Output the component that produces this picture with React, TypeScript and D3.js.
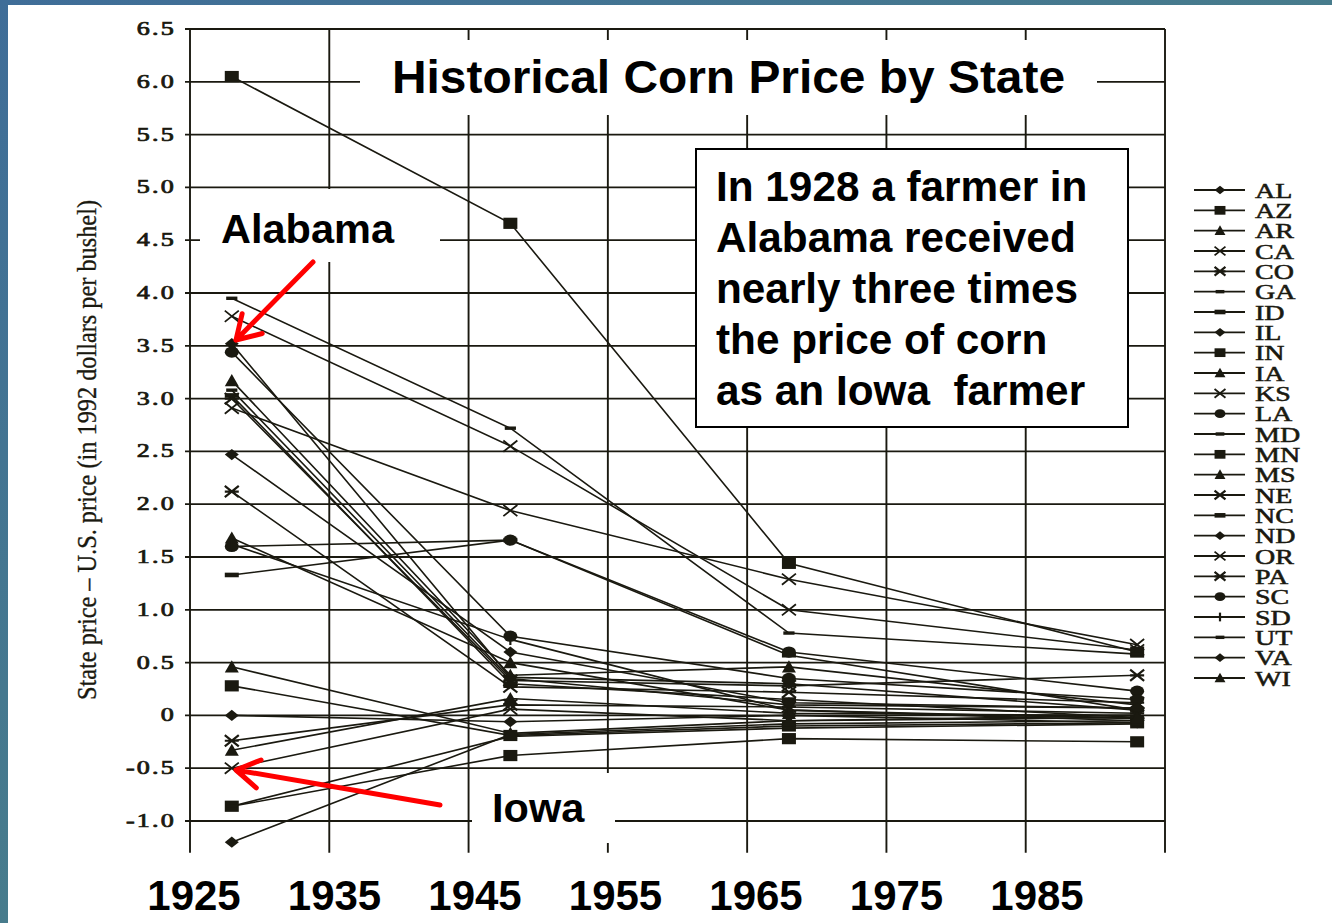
import * as d3 from 'd3';
import React from 'react';

// years of the four observations
const years = [1928, 1948, 1968, 1993];

const states = ['AL', 'AZ', 'AR', 'CA', 'CO', 'GA', 'ID', 'IL', 'IN', 'IA', 'KS', 'LA', 'MD',
    'MN', 'MS', 'NE', 'NC', 'ND', 'OR', 'PA', 'SC', 'SD', 'UT', 'VA', 'WI'];

const markerTypes = ['diamond', 'square', 'triangle', 'x', 'asterisk', 'dash', 'dashThick', 'diamond',
    'square', 'triangle', 'x', 'circle', 'dash', 'square', 'triangle', 'asterisk', 'dashThick', 'diamond',
    'x', 'asterisk', 'circle', 'plus', 'dash', 'diamond', 'triangle'];

// state price minus US price, 1992 dollars per bushel
const p1928 = [3.52, 6.05, 3.17, 3.78, 3.0, 3.95, 1.33, -1.2, 0.28, -0.33, 2.91, 1.6, 3.08,
    -0.86, 1.68, 2.12, 3.03, 0.0, -0.5, -0.24, 3.44, 1.62, -0.86, 2.47, 0.46];
const p1948 = [0.36, 4.66, 0.38, 2.55, 0.33, 2.72, 1.66, -0.18, -0.19, 0.16, 1.94, 1.66, 0.35,
    -0.38, 0.5, 0.27, 0.3, -0.06, 0.06, 0.1, 0.75, 0.72, -0.2, 0.6, -0.17];
const p1968 = [0.3, 1.44, 0.46, 1.0, 0.28, 0.78, 0.57, -0.08, -0.1, 0.02, 1.29, 0.6, 0.1,
    -0.22, 0.05, 0.22, 0.15, 0.0, -0.05, 0.08, 0.35, 0.05, -0.12, 0.12, -0.05];
const p1993 = [0.05, 0.6, 0.1, 0.62, 0.38, 0.58, 0.05, -0.05, -0.07, 0.0, 0.67, 0.23, 0.07,
    -0.25, -0.05, 0.12, -0.02, -0.07, 0.0, 0.02, 0.15, -0.03, -0.08, 0.07, -0.02];

const yTickValues = [-1.0, -0.5, 0, 0.5, 1.0, 1.5, 2.0, 2.5, 3.0, 3.5, 4.0, 4.5, 5.0, 5.5, 6.0, 6.5];
const xLabels = [1925, 1935, 1945, 1955, 1965, 1975, 1985];

const W = 1332;
const H = 923;
const INK = '#1a1910';
const SANS = '"Liberation Sans", Arial, sans-serif';
const SERIF = '"Liberation Serif", "Times New Roman", serif';

const x = d3.scaleLinear().domain([1925, 1995]).range([190, 1165]);
const y = d3.scaleLinear().domain([-1.3, 6.5]).range([852.7, 29]);
// the overlaid year labels are not quite on the grid
const xl = d3.scaleLinear().domain([1925, 1985]).range([194, 1037]);
const legendY = d3.scaleLinear().domain([0, states.length - 1]).range([190, 678]);

const series = states.map((s, i) => ({
    state: s,
    marker: markerTypes[i],
    values: [p1928[i], p1948[i], p1968[i], p1993[i]].map((v, j) => ({ year: years[j], v })),
}));

const line = d3.line<{ year: number; v: number }>().x(d => x(d.year)).y(d => y(d.v));

function Marker({ type, cx, cy, k = 1 }: { type: string; cx: number; cy: number; k?: number }) {
    const w = 7 * k;
    const h = 5.6 * k;
    switch (type) {
        case 'square':
            return <rect x={cx - w} y={cy - h} width={2 * w} height={2 * h} fill={INK} />;
        case 'circle':
            return <ellipse cx={cx} cy={cy} rx={w} ry={h} fill={INK} />;
        case 'diamond':
            return <path d={`M${cx - w},${cy}L${cx},${cy - h}L${cx + w},${cy}L${cx},${cy + h}Z`} fill={INK} />;
        case 'triangle':
            return <path d={`M${cx - w},${cy + h}L${cx},${cy - h - 1}L${cx + w},${cy + h}Z`} fill={INK} />;
        case 'x':
            return (
                <path d={`M${cx - w},${cy - h}L${cx + w},${cy + h}M${cx - w},${cy + h}L${cx + w},${cy - h}`}
                    stroke={INK} strokeWidth={1.8} />
            );
        case 'asterisk':
            return (
                <path d={`M${cx - w},${cy - h}L${cx + w},${cy + h}M${cx - w},${cy + h}L${cx + w},${cy - h}M${cx - w},${cy}L${cx + w},${cy}`}
                    stroke={INK} strokeWidth={2.2} />
            );
        case 'dash':
            return <rect x={cx - w * 0.8} y={cy - 1.7} width={w * 1.6} height={3.4} fill={INK} />;
        case 'dashThick':
            return <rect x={cx - w} y={cy - 2.3} width={w * 2} height={4.6} fill={INK} />;
        case 'plus':
            return <path d={`M${cx},${cy - h}L${cx},${cy + h}`} stroke={INK} strokeWidth={2.2} />;
        default:
            return null;
    }
}

function arrowPath(x1: number, y1: number, x2: number, y2: number) {
    const a = Math.atan2(y2 - y1, x2 - x1);
    const len = 27;
    const spread = 0.55;
    const w1 = [x2 - len * Math.cos(a - spread), y2 - len * Math.sin(a - spread)];
    const w2 = [x2 - len * Math.cos(a + spread), y2 - len * Math.sin(a + spread)];
    return `M${x1},${y1}L${x2},${y2}M${w1[0]},${w1[1]}L${x2},${y2}L${w2[0]},${w2[1]}`;
}

const App: React.FC = () => {
    const [x0, x1] = x.range();
    const yTop = y(6.5);
    const yBot = y(-1.3);

    return (
        <div style={{ position: 'absolute', left: 0, top: 0 }}>
            <svg width={W} height={H} style={{ display: 'block' }}>
                <defs>
                    <linearGradient id="frame" x1="0" y1="0" x2="1" y2="1">
                        <stop offset="0%" stopColor="#3f6d98" />
                        <stop offset="100%" stopColor="#4f8a80" />
                    </linearGradient>
                </defs>
                <rect width={W} height={H} fill="url(#frame)" />
                <rect x={8} y={5} width={W - 8} height={H - 5} fill="#ffffff" />

                {/* horizontal grid */}
                {yTickValues.map(t => (
                    <line key={'h' + t} x1={x0 - 5} x2={x1} y1={y(t)} y2={y(t)} stroke={INK} strokeWidth={1.8} />
                ))}
                {/* vertical grid, axis and right border */}
                {d3.range(1925, 1996, 10).map(yr => (
                    <line key={'v' + yr} x1={x(yr)} x2={x(yr)} y1={yTop} y2={yBot} stroke={INK} strokeWidth={1.9} />
                ))}

                {/* y tick labels */}
                {yTickValues.map(t => (
                    <text key={'yl' + t} transform={`translate(${x0 - 14},${y(t) + 6}) scale(1.45,1)`}
                        textAnchor="end" fontFamily={SERIF} fontSize={18} letterSpacing={1.5}
                        fill={INK} stroke={INK} strokeWidth={0.7}>
                        {t === 0 ? '0' : t.toFixed(1)}
                    </text>
                ))}

                <text transform="translate(96,450) rotate(-90) scale(1,1.35)" textAnchor="middle"
                    fontFamily={SERIF} fontSize={21} fill={INK} stroke={INK} strokeWidth={0.25}
                    textLength={500} lengthAdjust="spacingAndGlyphs">
                    State price – U.S. price (in 1992 dollars per bushel)
                </text>

                {/* series lines */}
                {series.map(s => (
                    <path key={'l' + s.state} d={line(s.values) ?? ''} fill="none" stroke={INK} strokeWidth={1.6} />
                ))}
                {series.map(s => s.values.map(d => (
                    <Marker key={s.state + d.year} type={s.marker} cx={x(d.year)} cy={y(d.v)} />
                )))}

                {/* legend */}
                {series.map((s, i) => {
                    const ly = legendY(i);
                    return (
                        <g key={'lg' + s.state}>
                            <line x1={1194} x2={1245} y1={ly} y2={ly} stroke={INK} strokeWidth={1.9} />
                            <Marker type={s.marker} cx={1220} cy={ly} k={0.78} />
                            <text transform={`translate(1255,${ly + 7.5}) scale(1.4,1)`} fontFamily={SERIF}
                                fontSize={20} fill={INK} stroke={INK} strokeWidth={0.5}>
                                {s.state}
                            </text>
                        </g>
                    );
                })}

                {/* slide overlays */}
                <rect x={360} y={40} width={737} height={75} fill="#ffffff" />
                <text x={392} y={93} fontFamily={SANS} fontWeight="bold" fontSize={46} fill="#000"
                    textLength={673} lengthAdjust="spacingAndGlyphs">
                    Historical Corn Price by State
                </text>

                <rect x={200} y={189} width={240} height={73} fill="#ffffff" />
                <text x={221} y={243} fontFamily={SANS} fontWeight="bold" fontSize={41.5} fill="#000">Alabama</text>

                <rect x={472} y={773} width={143} height={70} fill="#ffffff" />
                <text x={492} y={822} fontFamily={SANS} fontWeight="bold" fontSize={41.5} fill="#000">Iowa</text>

                <rect x={696} y={149} width={432} height={278} fill="#ffffff" stroke="#000" strokeWidth={2} />
                {['In 1928 a farmer in', 'Alabama received', 'nearly three times', 'the price of corn', 'as an Iowa  farmer'].map((t, i) => (
                    <text key={'ann' + i} x={716} y={201 + i * 51} fontFamily={SANS} fontWeight="bold"
                        fontSize={42.3} fill="#000" style={{ whiteSpace: 'pre' }}>
                        {t}
                    </text>
                ))}

                {/* year labels */}
                {xLabels.map(yr => (
                    <text key={'xl' + yr} x={xl(yr)} y={910} textAnchor="middle" fontFamily={SANS}
                        fontWeight="bold" fontSize={42} fill="#000">
                        {yr}
                    </text>
                ))}

                {/* red arrows */}
                <path d={arrowPath(313, 262, 236, 340)} fill="none" stroke="#ff0000" strokeWidth={5}
                    strokeLinecap="round" strokeLinejoin="round" />
                <path d={arrowPath(440, 805, 236, 770)} fill="none" stroke="#ff0000" strokeWidth={5}
                    strokeLinecap="round" strokeLinejoin="round" />
            </svg>
        </div>
    );
};

export default App;
